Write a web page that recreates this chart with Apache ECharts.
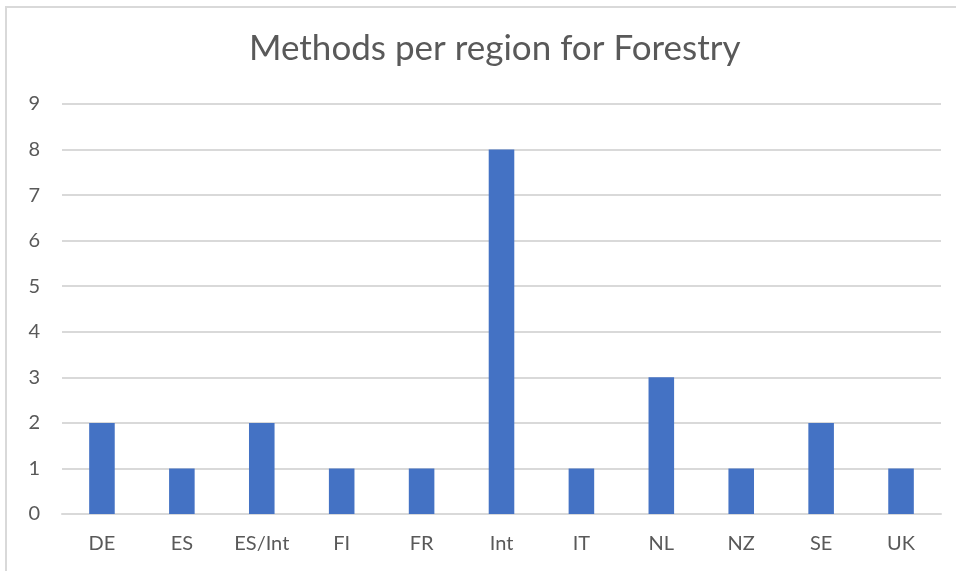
<!DOCTYPE html>
<html>
<head>
<meta charset="utf-8">
<script src="https://cdn.jsdelivr.net/npm/echarts@6/dist/echarts.min.js"></script>
<style>
  html, body { margin: 0; padding: 0; background: #fff; }
  #frame { position: absolute; left: 5px; top: 6px; width: 1000px; height: 600px; border-left: 2px solid #d9d9d9; border-top: 2px solid #d9d9d9; }
  #chart { position: absolute; left: 0; top: 0; width: 956px; height: 571px; }
</style>
</head>
<body>
<div id="frame"></div>
<div id="chart"></div>
<script>
var regions = ['DE', 'ES', 'ES/Int', 'FI', 'FR', 'Int', 'IT', 'NL', 'NZ', 'SE', 'UK'];
var methods = [2, 1, 2, 1, 1, 8, 1, 3, 1, 2, 1];

var font = 'Lato, "Open Sans", sans-serif';
var chart = echarts.init(document.getElementById('chart'));
chart.setOption({
  animation: false,
  title: {
    text: 'Methods per region for Forestry',
    left: 244,
    top: 26,
    textStyle: { fontFamily: font, fontSize: 35, fontWeight: 'normal', color: '#595959' }
  },
  grid: { left: 62, right: 15, top: 104, bottom: 57 },
  xAxis: {
    type: 'category',
    data: regions,
    axisLine: { lineStyle: { color: '#d9d9d9', width: 2 } },
    axisTick: { show: false },
    axisLabel: { fontFamily: font, fontSize: 20, color: '#595959', margin: 20 }
  },
  yAxis: {
    type: 'value',
    min: 0,
    max: 9,
    interval: 1,
    axisLine: { show: false },
    axisTick: { show: false },
    splitLine: { lineStyle: { color: '#d9d9d9', width: 2 } },
    axisLabel: { fontFamily: font, fontSize: 20, color: '#595959', margin: 22 }
  },
  series: [{
    type: 'bar',
    data: methods,
    barWidth: '32%',
    itemStyle: { color: '#4472c4' }
  }]
});
</script>
</body>
</html>
